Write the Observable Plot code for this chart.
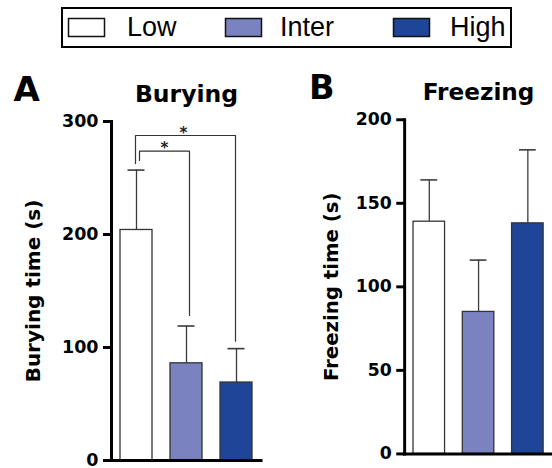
<!DOCTYPE html>
<html>
<head>
<meta charset="utf-8">
<script src="https://cdn.jsdelivr.net/npm/d3@7"></script>
<script src="https://cdn.jsdelivr.net/npm/@observablehq/plot@0.6"></script>
<style>
html, body { margin: 0; padding: 0; background: #fff; }
#wrap { position: relative; width: 552px; height: 468px; overflow: hidden; font-family: "DejaVu Sans", sans-serif; }
.abs { position: absolute; top: 0; }
</style>
</head>
<body>
<div id="wrap">
  <div id="panelA" class="abs" style="left:0px"></div>
  <div id="panelB" class="abs" style="left:276px"></div>
  <svg id="legend" class="abs" style="left:0px" width="552" height="52"></svg>
</div>
<script>
// ---- data ----
const groups = ["Low", "Inter", "High"];
const colors = ["#ffffff", "#7a83c0", "#1e4597"];

const buryMean = [204, 86, 69];
const buryUpper = [257, 119, 99];

const freezeMean = [139, 85, 138];
const freezeUpper = [164, 116, 182];

const buryTicks = [0, 100, 200, 300];
const freezeTicks = [0, 50, 100, 150, 200];

// significance brackets (Burying): from group, to group, top, left foot, right foot, label
const bracketFrom = ["Low", "Low"];
const bracketTo = ["High", "Inter"];
const bracketTop = [287.6, 273.7];
const bracketLeftFoot = [262.8, 265.5];
const bracketRightFoot = [105.6, 128.3];
const bracketLabel = ["*", "*"];

// ---- legend ----
const leg = d3.select("#legend");
leg.append("rect").attr("x", 62).attr("y", 8).attr("width", 449).attr("height", 39)
  .attr("fill", "none").attr("stroke", "#000").attr("stroke-width", 2);
const swX = [68, 225, 393];
const txX = [127, 280, 450];
groups.forEach((g, i) => {
  leg.append("rect").attr("x", swX[i] + 0.5).attr("y", 18.5).attr("width", 36).attr("height", 18)
    .attr("fill", colors[i]).attr("stroke", "#111").attr("stroke-width", 1.5);
  leg.append("text").attr("x", txX[i]).attr("y", 36)
    .attr("font-family", "'Liberation Sans', Arial, sans-serif").attr("font-size", 27)
    .attr("fill", "#000").text(g);
});

// ---- panels ----
function panel({mean, upper, domain, ticks, label, title, letter, marginLeft, width, labelDx, letterDx, extra}) {
  const data = groups.map((g, i) => ({group: g, mean: mean[i], upper: upper[i]}));
  return Plot.plot({
    width, height: 468,
    marginTop: 121, marginBottom: 8, marginLeft, marginRight: width - marginLeft - 150,
    x: {domain: groups, paddingInner: 0.36, paddingOuter: 0.18, axis: null},
    y: {domain, axis: null},
    color: {domain: groups, range: colors},
    style: {fontFamily: "'DejaVu Sans', sans-serif", background: "transparent", overflow: "visible", color: "#000"},
    marks: [
      Plot.ruleX(data, {x: "group", y1: "mean", y2: "upper", stroke: "#3a3a3a", strokeWidth: 1.3}),
      Plot.tickY(data, {x: "group", y: "upper", stroke: "#3a3a3a", strokeWidth: 1.6, insetLeft: 7.5, insetRight: 7.5}),
      Plot.barY(data, {x: "group", y: "mean", fill: "group", stroke: "#333", strokeWidth: 1.3}),
      ...(extra || []),
      Plot.ruleY([0], {stroke: "#000", strokeWidth: 3, strokeLinecap: "square"}),
      Plot.frame({anchor: "left", stroke: "#000", strokeWidth: 3, strokeLinecap: "square"}),
      Plot.axisY(ticks, {tickSize: 8, tickPadding: 5, strokeWidth: 3, fontSize: 17.5, fontWeight: "bold", color: "#000"}),
      Plot.text([label], {frameAnchor: "left", dx: labelDx, rotate: -90, textAnchor: "middle", lineAnchor: "middle", fontSize: 20, fontWeight: "bold", fill: "#000"}),
      Plot.text([title], {frameAnchor: "top", dy: -20, lineAnchor: "bottom", fontSize: 23.5, fontWeight: "bold", fill: "#000"}),
      Plot.text([letter], {frameAnchor: "top-left", dx: letterDx, dy: -21, lineAnchor: "bottom", textAnchor: "start", fontSize: 34, fontWeight: "bold", fill: "#000"})
    ]
  });
}

const bracketLines = (k, dx) => {
  const pts = [
    {g: bracketFrom[k], v: bracketLeftFoot[k]},
    {g: bracketFrom[k], v: bracketTop[k]},
    {g: bracketTo[k], v: bracketTop[k]},
    {g: bracketTo[k], v: bracketRightFoot[k]}
  ];
  return Plot.line(pts, {x: "g", y: "v", stroke: "#333", strokeWidth: 1.2, dx, curve: "linear"});
};

const starData = [
  {g: "Inter", v: bracketTop[0], t: bracketLabel[0]},
  {g: "Low", v: bracketTop[1], t: bracketLabel[1]}
];

document.getElementById("panelA").append(panel({
  mean: buryMean, upper: buryUpper, domain: [0, 300], ticks: buryTicks,
  label: "Burying time (s)", title: "Burying", letter: "A",
  marginLeft: 111, width: 276, labelDx: -78, letterDx: -98,
  extra: [
    bracketLines(0, -1),
    bracketLines(1, 3),
    Plot.text(starData.slice(0, 1), {x: "g", y: "v", text: "t", dx: -3, dy: 2, lineAnchor: "bottom", fontSize: 15, fontWeight: "bold", fill: "#222"}),
    Plot.text(starData.slice(1, 2), {x: "g", y: "v", text: "t", dx: 28, dy: 2, lineAnchor: "bottom", fontSize: 15, fontWeight: "bold", fill: "#222"})
  ]
}));

document.getElementById("panelB").append(panel({
  mean: freezeMean, upper: freezeUpper, domain: [0, 200], ticks: freezeTicks,
  label: "Freezing time (s)", title: "Freezing", letter: "B",
  marginLeft: 130, width: 280, labelDx: -74, letterDx: -97
}));
</script>
</body>
</html>
